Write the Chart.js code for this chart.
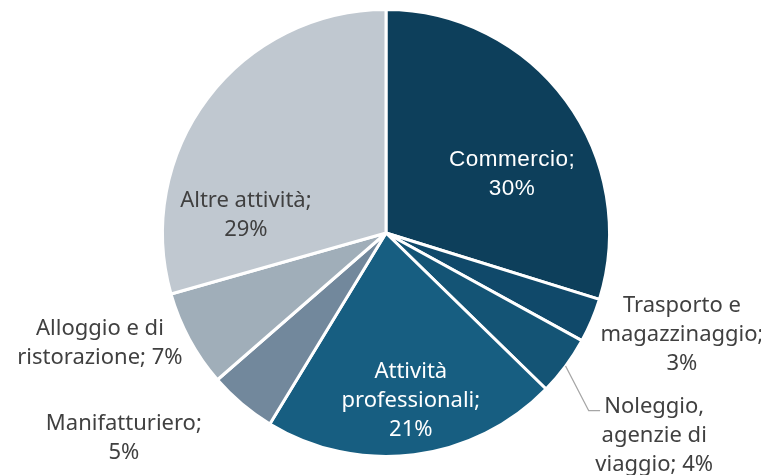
<!DOCTYPE html>
<html>
<head>
<meta charset="utf-8">
<script src="https://cdn.jsdelivr.net/npm/chart.js@4/dist/chart.umd.min.js"></script>
<style>
  html, body { margin: 0; padding: 0; background: #fff; }
  #wrap { width: 761px; height: 475px; position: relative; }
</style>
</head>
<body>
<div id="wrap"><canvas id="pie"></canvas></div>
<script>
// Categories and shares
const categories = ['Commercio', 'Trasporto e magazzinaggio', 'Noleggio, agenzie di viaggio',
    'Attività professionali', 'Manifatturiero', 'Alloggio e di ristorazione', 'Altre attività'];
const shares = [29.8, 3.2, 4.3, 21.4, 4.9, 7.0, 29.4];
const sliceColors = ['#0d3f5b', '#10496a', '#145475', '#175e81', '#72889c', '#a0aeb9', '#c0c8d0'];

// How each label is broken into lines (text only; the % comes from the data)
const labelLines = [
    ['Commercio;', '{p}'],
    ['Trasporto e', 'magazzinaggio;', '{p}'],
    ['Noleggio,', 'agenzie di', 'viaggio; {p}'],
    ['Attività', 'professionali;', '{p}'],
    ['Manifatturiero;', '{p}'],
    ['Alloggio e di', 'ristorazione; {p}'],
    ['Altre attività;', '{p}']
];

// label anchor relative to the pie centre, in units of the radius
const labelAnchor = [
    { x: 0.564, y: -0.262, color: '#ffffff', arial: true },
    { x: 1.324, y: 0.453 },
    { x: 1.20, y: 0.907, leader: { x: 0.907, y: 0.795, end: 0.958 } },
    { x: 0.111, y: 0.751, color: '#ffffff' },
    { x: -1.173, y: 0.92 },
    { x: -1.28, y: 0.493 },
    { x: -0.627, y: -0.080 }
];

const pieLabels = {
    id: 'pieLabels',
    afterDatasetsDraw(chart) {
        const ctx = chart.ctx;
        const meta = chart.getDatasetMeta(0);
        const total = shares.reduce((a, b) => a + b, 0);
        meta.data.forEach((arc, i) => {
            const cx = arc.x, cy = arc.y, r = arc.outerRadius;
            const a = labelAnchor[i];
            const pct = Math.round(shares[i] / total * 100) + '%';
            const lines = labelLines[i].map(s => s.replace('{p}', pct));
            ctx.save();
            if (a.leader) {
                const mid = (arc.startAngle + arc.endAngle) / 2;
                ctx.strokeStyle = '#a6a6a6';
                ctx.lineWidth = 1.3;
                ctx.beginPath();
                ctx.moveTo(cx + Math.cos(mid) * r, cy + Math.sin(mid) * r);
                ctx.lineTo(cx + a.leader.x * r, cy + a.leader.y * r);
                ctx.lineTo(cx + a.leader.end * r, cy + a.leader.y * r);
                ctx.stroke();
            }
            const lh = 29;
            if (a.arial) {
                ctx.font = '22.5px "Liberation Sans", Arial, sans-serif';
                ctx.letterSpacing = '0.5px';
            } else {
                ctx.font = '22px "Noto Sans", sans-serif';
            }
            ctx.fillStyle = a.color || '#404040';
            ctx.textAlign = 'center';
            ctx.textBaseline = 'middle';
            const x0 = cx + a.x * r;
            const y0 = cy + a.y * r - (lines.length - 1) * lh / 2;
            lines.forEach((t, k) => ctx.fillText(t, x0, y0 + k * lh));
            ctx.restore();
        });
    }
};

new Chart(document.getElementById('pie'), {
    type: 'pie',
    data: {
        labels: categories,
        datasets: [{
            data: shares,
            backgroundColor: sliceColors,
            borderColor: '#ffffff',
            borderWidth: 3,
            hoverOffset: 0,
            offset: 0
        }]
    },
    options: {
        responsive: true,
        maintainAspectRatio: false,
        animation: false,
        layout: { padding: { top: 8, bottom: 17, left: 11, right: 0 } },
        plugins: {
            legend: { display: false },
            tooltip: { enabled: false }
        },
        events: []
    },
    plugins: [pieLabels]
});
</script>
</body>
</html>
